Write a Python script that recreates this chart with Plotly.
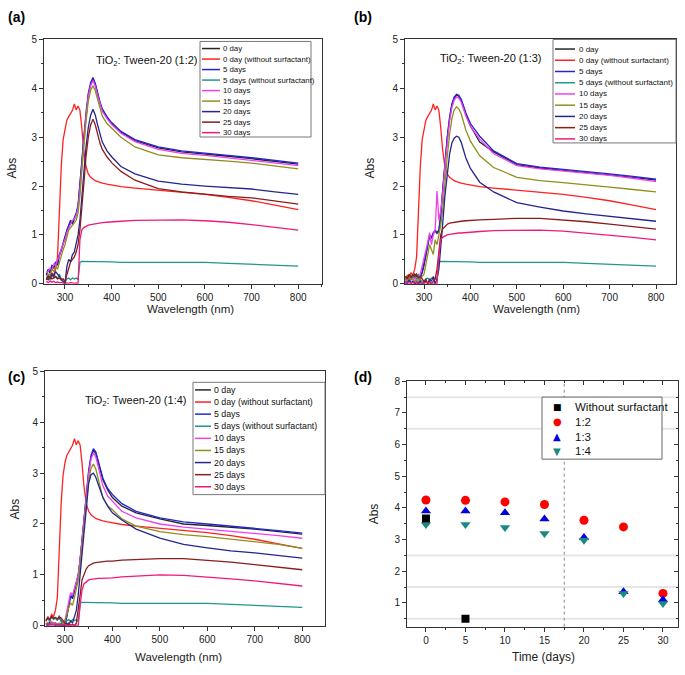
import plotly.graph_objects as go

W, H = 685, 675
FONT = "Liberation Sans, Arial, sans-serif"
AXC = "#333333"

# ---------------- data ----------------
WL = [260, 264, 268, 272, 276, 280, 284, 288, 292, 296,
      300, 304, 308, 312, 316, 320, 324, 328, 332, 336,
      340, 345, 350, 355, 360, 365, 370, 375, 380, 390,
      400, 420, 450, 500, 550, 600, 650, 700, 750, 800]

NAMES = ["0 day", "0 day (without surfactant)", "5 days", "5 days (without surfactant)",
         "10 days", "15 days", "20 days", "25 days", "30 days"]

RED_NOSURF = [0.08, 0.18, 0.12, 0.22, 0.18, 0.30, 0.55, 1.50, 2.40, 2.95,
              3.20, 3.35, 3.42, 3.50, 3.55, 3.68, 3.56, 3.64, 3.55, 3.20,
              2.75, 2.40, 2.25, 2.18, 2.14, 2.11, 2.09, 2.07, 2.06, 2.04,
              2.02, 1.99, 1.96, 1.92, 1.87, 1.83, 1.77, 1.70, 1.61, 1.52]
TEAL_NOSURF = [0.10, 0.15, 0.08, 0.18, 0.12, 0.15, 0.10, 0.20, 0.08, 0.05,
               0.02, 0.10, 0.12, 0.08, 0.12, 0.10, 0.12, 0.08, 0.44, 0.46,
               0.46, 0.46, 0.45, 0.45, 0.45, 0.45, 0.45, 0.45, 0.45, 0.45,
               0.45, 0.44, 0.44, 0.45, 0.45, 0.44, 0.42, 0.40, 0.38, 0.36]

# (a) TiO2 : Tween-20 (1:2)
A_0D = [0.18, 0.28, 0.22, 0.35, 0.32, 0.42, 0.38, 0.58, 0.68, 0.82,
        0.92, 1.08, 1.18, 1.28, 1.22, 1.33, 1.42, 1.58, 1.95, 2.45,
        2.92, 3.46, 3.86, 4.08, 4.19, 4.07, 3.87, 3.70, 3.56, 3.40,
        3.28, 3.10, 2.93, 2.78, 2.70, 2.66, 2.61, 2.56, 2.50, 2.45]
A_5D = [0.20, 0.30, 0.25, 0.38, 0.35, 0.45, 0.40, 0.60, 0.70, 0.85,
        0.95, 1.10, 1.20, 1.30, 1.25, 1.35, 1.45, 1.60, 2.00, 2.50,
        2.95, 3.50, 3.90, 4.12, 4.22, 4.10, 3.90, 3.72, 3.58, 3.42,
        3.30, 3.12, 2.95, 2.80, 2.72, 2.68, 2.63, 2.58, 2.52, 2.47]
A_10D = [0.22, 0.25, 0.32, 0.28, 0.40, 0.38, 0.50, 0.55, 0.72, 0.80,
         0.90, 1.05, 1.15, 1.22, 1.30, 1.32, 1.40, 1.55, 1.90, 2.40,
         2.88, 3.42, 3.84, 4.06, 4.16, 4.04, 3.85, 3.67, 3.53, 3.38,
         3.26, 3.08, 2.91, 2.75, 2.67, 2.63, 2.58, 2.53, 2.47, 2.42]
A_15D = [0.15, 0.20, 0.18, 0.30, 0.25, 0.35, 0.30, 0.45, 0.55, 0.70,
         0.80, 0.95, 1.10, 1.15, 1.20, 1.25, 1.30, 1.45, 1.80, 2.30,
         2.78, 3.32, 3.74, 3.96, 4.05, 3.95, 3.77, 3.58, 3.43, 3.28,
         3.18, 3.00, 2.80, 2.64, 2.58, 2.55, 2.51, 2.47, 2.41, 2.35]
A_20D = [0.10, 0.15, 0.12, 0.20, 0.15, 0.25, 0.20, 0.15, 0.10, 0.05,
         0.00, 0.35, 0.50, 0.45, 0.60, 0.65, 0.85, 1.00, 1.30, 1.80,
         2.30, 2.80, 3.20, 3.45, 3.57, 3.45, 3.25, 3.05, 2.90, 2.72,
         2.60, 2.40, 2.25, 2.10, 2.04, 2.00, 1.97, 1.94, 1.88, 1.83]
A_25D = [0.10, 0.08, 0.15, 0.10, 0.12, 0.15, 0.10, 0.12, 0.08, 0.10,
         0.05, 0.20, 0.35, 0.45, 0.50, 0.55, 0.65, 0.80, 1.10, 1.50,
         2.00, 2.60, 3.00, 3.25, 3.37, 3.25, 3.05, 2.88, 2.75, 2.60,
         2.48, 2.30, 2.12, 1.95, 1.88, 1.83, 1.79, 1.76, 1.69, 1.63]
A_30D = [0.05, 0.02, 0.06, 0.03, 0.05, 0.02, 0.04, 0.02, 0.03, 0.01,
         0.00, 0.02, 0.01, 0.03, 0.02, 0.01, 0.02, 0.00, 0.90, 1.10,
         1.15, 1.18, 1.20, 1.21, 1.22, 1.23, 1.24, 1.24, 1.25, 1.26,
         1.27, 1.28, 1.30, 1.31, 1.31, 1.29, 1.26, 1.21, 1.16, 1.10]

# (b) TiO2 : Tween-20 (1:3)
B_0D = [0.15, 0.10, 0.18, 0.12, 0.15, 0.20, 0.15, 0.10, 0.15, 0.22,
        0.38, 0.58, 0.78, 0.98, 0.93, 1.03, 1.08, 1.03, 1.08, 1.38,
        1.88, 2.48, 2.98, 3.38, 3.66, 3.80, 3.86, 3.84, 3.76, 3.48,
        3.23, 2.90, 2.70, 2.44, 2.37, 2.32, 2.28, 2.23, 2.18, 2.12]
B_5D = [0.00, 0.05, 0.10, 0.00, 0.05, 0.00, 0.05, 0.00, 0.10, 0.25,
        0.40, 0.60, 0.80, 1.00, 0.95, 1.05, 1.10, 1.05, 1.10, 1.40,
        1.90, 2.50, 3.00, 3.40, 3.68, 3.82, 3.88, 3.86, 3.78, 3.50,
        3.28, 3.02, 2.72, 2.46, 2.39, 2.34, 2.30, 2.25, 2.20, 2.14]
B_10D = [0.05, 0.10, 0.05, 0.15, 0.08, 0.12, 0.05, 0.10, 0.20, 0.35,
         0.50, 0.70, 0.85, 1.05, 0.80, 1.00, 1.10, 1.90, 1.30, 1.50,
         1.80, 2.40, 2.92, 3.32, 3.60, 3.76, 3.82, 3.80, 3.72, 3.44,
         3.22, 2.96, 2.66, 2.42, 2.35, 2.31, 2.27, 2.22, 2.16, 2.09]
B_15D = [0.10, 0.05, 0.12, 0.08, 0.10, 0.05, 0.08, 0.05, 0.10, 0.15,
         0.20, 0.40, 0.60, 0.80, 0.70, 0.60, 0.90, 0.80, 1.00, 1.20,
         1.50, 2.10, 2.60, 3.05, 3.38, 3.56, 3.62, 3.58, 3.48, 3.15,
         2.92, 2.62, 2.38, 2.18, 2.11, 2.07, 2.03, 1.98, 1.93, 1.88]
B_20D = [0.05, 0.00, 0.08, 0.02, 0.05, 0.00, 0.03, 0.00, 0.05, 0.00,
         0.02, 0.05, 0.00, 0.10, 0.05, 0.15, 0.00, 0.10, 0.30, 0.70,
         1.20, 1.80, 2.30, 2.65, 2.88, 2.98, 3.02, 3.00, 2.90, 2.58,
         2.36, 2.08, 1.88, 1.66, 1.57, 1.49, 1.43, 1.38, 1.33, 1.28]
B_25D = [0.15, 0.10, 0.20, 0.12, 0.18, 0.15, 0.20, 0.12, 0.15, 0.10,
         0.05, 0.10, 0.00, 0.05, 0.00, 0.05, 0.10, 0.30, 0.70, 1.00,
         1.12, 1.18, 1.22, 1.24, 1.25, 1.26, 1.27, 1.27, 1.28, 1.29,
         1.30, 1.31, 1.32, 1.34, 1.34, 1.31, 1.27, 1.22, 1.17, 1.12]
B_30D = [0.02, 0.05, 0.01, 0.03, 0.02, 0.04, 0.01, 0.02, 0.00, 0.02,
         0.01, 0.03, 0.02, 0.00, 0.02, 0.01, 0.00, 0.00, 0.60, 0.90,
         0.95, 0.98, 1.00, 1.01, 1.02, 1.03, 1.03, 1.04, 1.04, 1.05,
         1.06, 1.07, 1.09, 1.10, 1.10, 1.08, 1.04, 0.99, 0.95, 0.90]

# (c) TiO2 : Tween-20 (1:4)
C_0D = [0.12, 0.15, 0.10, 0.18, 0.14, 0.16, 0.12, 0.15, 0.10, 0.05,
        0.00, 0.18, 0.38, 0.58, 0.53, 0.68, 0.78, 0.98, 1.28, 1.68,
        2.08, 2.58, 3.02, 3.32, 3.45, 3.39, 3.22, 3.02, 2.87, 2.67,
        2.52, 2.35, 2.22, 2.10, 2.00, 1.97, 1.94, 1.90, 1.85, 1.80]
C_5D = [0.05, 0.02, 0.08, 0.03, 0.05, 0.02, 0.04, 0.02, 0.05, 0.02,
        0.00, 0.20, 0.40, 0.60, 0.55, 0.70, 0.80, 1.00, 1.30, 1.70,
        2.10, 2.60, 3.05, 3.35, 3.48, 3.42, 3.25, 3.05, 2.90, 2.70,
        2.58, 2.40, 2.25, 2.12, 2.04, 2.00, 1.96, 1.92, 1.87, 1.82]
C_10D = [0.02, 0.05, 0.03, 0.08, 0.04, 0.06, 0.03, 0.05, 0.02, 0.00,
         0.10, 0.30, 0.50, 0.65, 0.60, 0.75, 0.85, 1.00, 1.30, 1.70,
         2.05, 2.55, 2.98, 3.28, 3.40, 3.32, 3.12, 2.90, 2.75, 2.55,
         2.45, 2.25, 2.12, 2.00, 1.94, 1.90, 1.86, 1.82, 1.77, 1.72]
C_15D = [0.03, 0.06, 0.02, 0.05, 0.03, 0.05, 0.02, 0.04, 0.02, 0.05,
         0.10, 0.25, 0.35, 0.45, 0.40, 0.55, 0.70, 0.90, 1.20, 1.60,
         1.95, 2.45, 2.85, 3.10, 3.18, 3.08, 2.88, 2.66, 2.52, 2.36,
         2.28, 2.10, 1.96, 1.85, 1.79, 1.75, 1.70, 1.66, 1.60, 1.52]
C_20D = [0.02, 0.00, 0.03, 0.01, 0.02, 0.00, 0.02, 0.00, 0.01, 0.00,
         0.02, 0.05, 0.00, 0.10, 0.05, 0.20, 0.30, 0.60, 1.00, 1.50,
         1.90, 2.40, 2.80, 2.97, 3.00, 2.92, 2.78, 2.62, 2.52, 2.35,
         2.22, 2.08, 1.90, 1.72, 1.60, 1.53, 1.47, 1.43, 1.38, 1.33]
C_25D = [0.10, 0.15, 0.12, 0.18, 0.14, 0.16, 0.13, 0.17, 0.15, 0.10,
         0.05, 0.00, 0.05, 0.00, 0.03, 0.00, 0.05, 0.30, 0.60, 0.90,
         1.00, 1.12, 1.18, 1.21, 1.23, 1.24, 1.25, 1.25, 1.26, 1.27,
         1.27, 1.29, 1.30, 1.32, 1.32, 1.29, 1.25, 1.20, 1.15, 1.10]
C_30D = [0.02, 0.04, 0.01, 0.03, 0.02, 0.03, 0.01, 0.02, 0.00, 0.01,
         0.02, 0.01, 0.00, 0.02, 0.01, 0.00, 0.01, 0.00, 0.40, 0.70,
         0.82, 0.87, 0.90, 0.91, 0.92, 0.92, 0.93, 0.93, 0.93, 0.94,
         0.94, 0.96, 0.97, 1.00, 0.99, 0.96, 0.92, 0.88, 0.83, 0.78]

# (d) Abs vs time
DAYS = [0, 5, 10, 15, 20, 25, 30]
NOSURF_DAYS = [0, 5]
NOSURF_ABS = [3.67, 0.50]
RATIO_12 = [4.25, 4.24, 4.19, 4.11, 3.61, 3.40, 1.30]
RATIO_13 = [3.90, 3.90, 3.85, 3.65, 3.07, 1.35, 1.10]
RATIO_14 = [3.48, 3.48, 3.38, 3.19, 2.98, 1.30, 0.98]
D_NAMES = ["Without surfactant", "1:2", "1:3", "1:4"]

X_TICKS = [300, 400, 500, 600, 700, 800]
Y_TICKS = [0, 1, 2, 3, 4, 5]
D_X_TICKS = [0, 5, 10, 15, 20, 25, 30]
D_Y_TICKS = [1, 2, 3, 4, 5, 6, 7, 8]

COLORS = ["#262626", "#ff2020", "#2424d4", "#22968c", "#f040ee",
          "#8f8f1c", "#25258e", "#8a1c1c", "#f01a7c"]
D_COLORS = ["#000000", "#ff0000", "#0000e0", "#1a8a80"]
D_SYMBOLS = ["square", "circle", "triangle-up", "triangle-down"]
D_GLYPHS = ["\u25A0", "\u25CF", "\u25B2", "\u25BC"]


def px(x):
    return x / W


def py(y):
    return 1 - y / H


PANELS = [
    dict(series=[A_0D, RED_NOSURF, A_5D, TEAL_NOSURF, A_10D, A_15D, A_20D, A_25D, A_30D],
         xdom=(44, 322), ydom=(35, 283), xrange=[255, 851],
         title="TiO<sub>2</sub>: Tween-20 (1:2)", title_xy=(94, 57),
         box=(200, 37, 311, 134), ly0=44.2, ldy=10.67, lline=(202, 220), ltx=221, lsize=7.8,
         ylab=(12, 166), xlab=(190, 309), tag="(a)", tag_xy=(6, 12)),
    dict(series=[B_0D, RED_NOSURF, B_5D, TEAL_NOSURF, B_10D, B_15D, B_20D, B_25D, B_30D],
         xdom=(405, 676), ydom=(35, 283), xrange=[259, 843],
         title="TiO<sub>2</sub>: Tween-20 (1:3)", title_xy=(438, 55),
         box=(553, 35, 676, 140), ly0=44.7, ldy=11.4, lline=(555, 575), ltx=577, lsize=8,
         ylab=(370, 166), xlab=(536, 309), tag="(b)", tag_xy=(352, 12)),
    dict(series=[C_0D, RED_NOSURF, C_5D, TEAL_NOSURF, C_10D, C_15D, C_20D, C_25D, C_30D],
         xdom=(45, 325), ydom=(372, 630), xrange=[258, 848],
         title="TiO<sub>2</sub>: Tween-20 (1:4)", title_xy=(83, 402),
         box=(193, 383, 325, 497), ly0=390.7, ldy=12.29, lline=(195, 211), ltx=212, lsize=8.8,
         ylab=(15, 512), xlab=(178, 662), tag="(c)", tag_xy=(6, 378)),
]

fig = go.Figure()
shapes = []
annotations = []
layout_axes = {}

axis_common = dict(showline=True, linecolor=AXC, linewidth=1, mirror=True,
                   ticks="outside", ticklen=4, tickcolor=AXC, showgrid=False,
                   zeroline=False, tickfont=dict(family=FONT, size=10, color="#222222"))

for i, p in enumerate(PANELS, start=1):
    xa = "x" if i == 1 else f"x{i}"
    ya = "y" if i == 1 else f"y{i}"
    for name, vals, col in zip(NAMES, p["series"], COLORS):
        fig.add_trace(go.Scatter(x=WL, y=vals, mode="lines", name=name,
                                 line=dict(color=col, width=1.3),
                                 xaxis=xa, yaxis=ya, showlegend=False))
    layout_axes["xaxis" if i == 1 else f"xaxis{i}"] = dict(
        axis_common, domain=[px(p["xdom"][0]), px(p["xdom"][1])], range=p["xrange"],
        anchor=ya, tickmode="array", tickvals=X_TICKS,
        minor=dict(ticks="outside", ticklen=2, tickcolor=AXC, tickmode="array",
                   tickvals=[350, 450, 550, 650, 750, 850]))
    layout_axes["yaxis" if i == 1 else f"yaxis{i}"] = dict(
        axis_common, domain=[py(p["ydom"][1]), py(p["ydom"][0])], range=[0, 5],
        anchor=xa, tickmode="array", tickvals=Y_TICKS,
        minor=dict(ticks="outside", ticklen=2, tickcolor=AXC, tickmode="array",
                   tickvals=[0.5, 1.5, 2.5, 3.5, 4.5]))

    annotations.append(dict(text=p["title"], x=px(p["title_xy"][0]), y=py(p["title_xy"][1]),
                            xref="paper", yref="paper", xanchor="left", yanchor="middle",
                            showarrow=False, font=dict(family=FONT, size=11, color="#111111")))
    annotations.append(dict(text="Abs", x=px(p["ylab"][0]), y=py(p["ylab"][1]), textangle=-90,
                            xref="paper", yref="paper", xanchor="center", yanchor="middle",
                            showarrow=False, font=dict(family=FONT, size=12, color="#222222")))
    annotations.append(dict(text="Wavelength (nm)", x=px(p["xlab"][0]), y=py(p["xlab"][1]),
                            xref="paper", yref="paper", xanchor="center", yanchor="middle",
                            showarrow=False, font=dict(family=FONT, size=11.5, color="#222222")))
    annotations.append(dict(text="<b>" + p["tag"] + "</b>", x=px(p["tag_xy"][0]), y=py(p["tag_xy"][1]),
                            xref="paper", yref="paper", xanchor="left", yanchor="middle",
                            showarrow=False, font=dict(family=FONT, size=14, color="#000000")))
    bx0, by0, bx1, by1 = p["box"]
    shapes.append(dict(type="rect", xref="paper", yref="paper", x0=px(bx0), x1=px(bx1),
                       y0=py(by1), y1=py(by0), line=dict(color="#777777", width=1),
                       fillcolor="white", layer="above"))
    for k, (name, col) in enumerate(zip(NAMES, COLORS)):
        yy = p["ly0"] + k * p["ldy"]
        shapes.append(dict(type="line", xref="paper", yref="paper",
                           x0=px(p["lline"][0]), x1=px(p["lline"][1]), y0=py(yy), y1=py(yy),
                           line=dict(color=col, width=1.5), layer="above"))
        annotations.append(dict(text=name, x=px(p["ltx"]), y=py(yy), xref="paper", yref="paper",
                                xanchor="left", yanchor="middle", showarrow=False,
                                font=dict(family=FONT, size=p["lsize"], color="#111111")))

# ---------------- panel (d) ----------------
d_series = [(NOSURF_DAYS, NOSURF_ABS), (DAYS, RATIO_12), (DAYS, RATIO_13), (DAYS, RATIO_14)]
for k in [1, 2, 3, 0]:
    xs, ys = d_series[k]
    fig.add_trace(go.Scatter(x=xs, y=ys, mode="markers", name=D_NAMES[k],
                             marker=dict(symbol=D_SYMBOLS[k], color=D_COLORS[k],
                                         size=8 if k == 0 else 9, line=dict(width=0)),
                             xaxis="x4", yaxis="y4", showlegend=False))

D_XRANGE = [-2.4, 31.9]
D_YRANGE = [0.25, 8]
D_XMINOR = [-2.5, 2.5, 7.5, 12.5, 17.5, 22.5, 27.5]
D_YMINOR = [0.5, 1.5, 2.5, 3.5, 4.5, 5.5, 6.5, 7.5]

layout_axes["xaxis4"] = dict(axis_common, domain=[px(407), px(678)], range=D_XRANGE,
                             anchor="y4", tickmode="array", tickvals=D_X_TICKS,
                             minor=dict(ticks="outside", ticklen=2, tickcolor=AXC, tickmode="array",
                                        tickvals=D_XMINOR))
layout_axes["yaxis4"] = dict(axis_common, domain=[py(631), py(382)], range=D_YRANGE,
                             anchor="x4", tickmode="array", tickvals=D_Y_TICKS,
                             minor=dict(ticks="outside", ticklen=2, tickcolor=AXC, tickmode="array",
                                        tickvals=D_YMINOR))
layout_axes["xaxis5"] = dict(overlaying="x4", side="top", anchor="y4", range=D_XRANGE,
                             showline=False, showgrid=False, zeroline=False, showticklabels=False,
                             ticks="inside", ticklen=4, tickcolor=AXC, tickmode="array",
                             tickvals=D_X_TICKS,
                             minor=dict(ticks="inside", ticklen=2, tickcolor=AXC, tickmode="array",
                                        tickvals=D_XMINOR))
layout_axes["yaxis5"] = dict(overlaying="y4", side="right", anchor="x4", range=D_YRANGE,
                             showline=False, showgrid=False, zeroline=False, showticklabels=False,
                             ticks="inside", ticklen=4, tickcolor=AXC, tickmode="array",
                             tickvals=D_Y_TICKS,
                             minor=dict(ticks="inside", ticklen=2, tickcolor=AXC, tickmode="array",
                                        tickvals=D_YMINOR))
fig.add_trace(go.Scatter(x=[None], y=[None], xaxis="x5", yaxis="y4", showlegend=False,
                         hoverinfo="skip"))
fig.add_trace(go.Scatter(x=[None], y=[None], xaxis="x4", yaxis="y5", showlegend=False,
                         hoverinfo="skip"))

for v in [0.5, 1.5, 2.5, 6.5, 7.5]:
    shapes.append(dict(type="line", xref="x4 domain", yref="y4", x0=0, x1=1, y0=v, y1=v,
                       line=dict(color="#e6e6e6", width=2), layer="below"))
shapes.append(dict(type="line", xref="x4", yref="y4 domain", x0=17.5, x1=17.5, y0=0, y1=1,
                   line=dict(color="#8a8a8a", width=1, dash="dot"), layer="below"))

shapes.append(dict(type="rect", xref="paper", yref="paper", x0=px(542), x1=px(662),
                   y0=py(461), y1=py(398), line=dict(color="#666666", width=1),
                   fillcolor="white", layer="above"))
for k in range(4):
    yy = 408 + k * 15
    annotations.append(dict(text=D_GLYPHS[k], x=px(557), y=py(yy), xref="paper", yref="paper",
                            xanchor="center", yanchor="middle", showarrow=False,
                            font=dict(family="DejaVu Sans", size=9 if k == 0 else 10,
                                      color=D_COLORS[k])))
    annotations.append(dict(text=D_NAMES[k], x=px(573), y=py(yy), xref="paper", yref="paper",
                            xanchor="left", yanchor="middle", showarrow=False,
                            font=dict(family=FONT, size=11.5, color="#111111")))

annotations.append(dict(text="Abs", x=px(374), y=py(516), textangle=-90, xref="paper", yref="paper",
                        xanchor="center", yanchor="middle", showarrow=False,
                        font=dict(family=FONT, size=12, color="#222222")))
annotations.append(dict(text="Time (days)", x=px(543), y=py(662), xref="paper", yref="paper",
                        xanchor="center", yanchor="middle", showarrow=False,
                        font=dict(family=FONT, size=12, color="#222222")))
annotations.append(dict(text="<b>(d)</b>", x=px(352), y=py(378), xref="paper", yref="paper",
                        xanchor="left", yanchor="middle", showarrow=False,
                        font=dict(family=FONT, size=14, color="#000000")))

fig.update_layout(width=W, height=H, autosize=False,
                  margin=dict(l=0, r=0, t=0, b=0),
                  paper_bgcolor="white", plot_bgcolor="white",
                  font=dict(family=FONT), showlegend=False, hovermode=False,
                  shapes=shapes, annotations=annotations, **layout_axes)

fig.write_html("out.html",
               config={"displayModeBar": False, "staticPlot": True},
               post_script="document.body.style.margin='0';document.body.style.padding='0';"
                           "document.body.style.overflow='hidden';")
